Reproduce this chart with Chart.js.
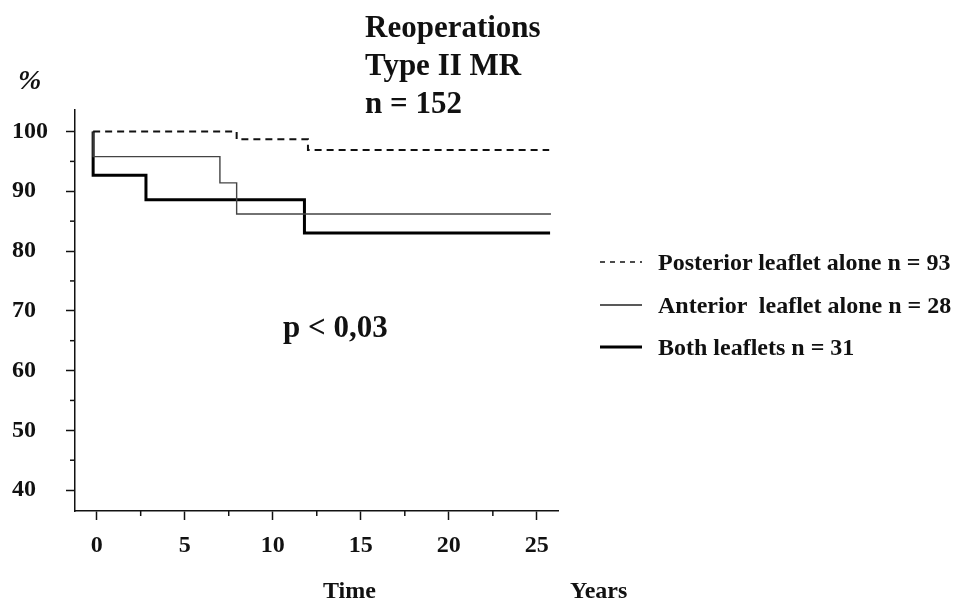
<!DOCTYPE html>
<html>
<head>
<meta charset="utf-8">
<script src="https://cdn.jsdelivr.net/npm/chart.js@4.4.1/dist/chart.umd.min.js"></script>
<style>
  body { margin: 0; background: #fff; }
  #wrap { position: relative; width: 969px; height: 601px; overflow: hidden; }
  #chart { position: absolute; left: 0; top: 0; }
  .txt {
    position: absolute;
    font-family: "Liberation Serif", "Times New Roman", serif;
    font-weight: bold;
    color: #111;
    line-height: 1;
    white-space: pre;
  }
  .legend-row { position: absolute; left: 600px; }
  .legend-row svg { position: absolute; left: 0; top: -5px; }
</style>
</head>
<body>
<div id="wrap">
  <canvas id="chart" width="969" height="601"></canvas>
</div>
<script>
// Kaplan-Meier style step data (years, %)
const posteriorTimes = [-0.2, 7.95, 12.0, 25.7];
const posteriorValues = [100, 98.7, 96.9, 96.9];

const anteriorTimes = [-0.2, -0.2, 7.0, 7.95, 25.8];
const anteriorValues = [100, 95.8, 91.4, 86.2, 86.2];

const bothTimes = [-0.2, -0.2, 2.8, 11.8, 25.75];
const bothValues = [100, 92.7, 88.6, 83.0, 83.0];

const seriesNames = [
  "Posterior leaflet alone n = 93",
  "Anterior  leaflet alone n = 28",
  "Both leaflets n = 31",
];

const xTicks = [0, 5, 10, 15, 20, 25];
const xMinorTicks = [2.5, 7.5, 12.5, 17.5, 22.5];
const yTicks = [40, 50, 60, 70, 80, 90, 100];
const yMinorTicks = [45, 55, 65, 75, 85, 95];

const titleLines = ["Reoperations", "Type II MR", "n = 152"];
const pValueText = "p < 0,03";

const toPoints = (times, values) => times.map((t, i) => ({ x: t, y: values[i] }));

const serifBold = (size) => ({
  family: "'Liberation Serif', 'Times New Roman', serif",
  size,
  weight: "bold",
});

// minor tick marks drawn through the scales
const minorTicks = {
  id: "minorTicks",
  afterDraw(chart) {
    const { ctx, scales } = chart;
    ctx.save();
    ctx.strokeStyle = "#111";
    ctx.lineWidth = 1.5;
    const xs = scales.x;
    xMinorTicks.forEach((v) => {
      const px = xs.getPixelForValue(v);
      ctx.beginPath();
      ctx.moveTo(px, xs.top);
      ctx.lineTo(px, xs.top + 5);
      ctx.stroke();
    });
    const ys = scales.y;
    yMinorTicks.forEach((v) => {
      const py = ys.getPixelForValue(v);
      ctx.beginPath();
      ctx.moveTo(ys.right, py);
      ctx.lineTo(ys.right - 5, py);
      ctx.stroke();
    });
    ctx.restore();
  },
};

const datasets = [
  {
    label: seriesNames[0],
    data: toPoints(posteriorTimes, posteriorValues),
    borderColor: "#111",
    borderWidth: 2,
    borderDash: [7, 5],
  },
  {
    label: seriesNames[1],
    data: toPoints(anteriorTimes, anteriorValues),
    borderColor: "#444",
    borderWidth: 1.4,
  },
  {
    label: seriesNames[2],
    data: toPoints(bothTimes, bothValues),
    borderColor: "#000",
    borderWidth: 3,
  },
].map((ds) => ({ ...ds, stepped: "before", pointRadius: 0, fill: false, tension: 0 }));

new Chart(document.getElementById("chart"), {
  type: "line",
  data: { datasets },
  options: {
    responsive: false,
    animation: false,
    layout: { padding: { left: 12, top: 110, right: 411, bottom: 0 } },
    plugins: { legend: { display: false }, tooltip: { enabled: false } },
    scales: {
      x: {
        type: "linear",
        min: -1.23,
        max: 26.2,
        afterBuildTicks: (scale) => {
          scale.ticks = xTicks.map((v) => ({ value: v }));
        },
        afterFit: (scale) => {
          scale.height = 90;
        },
        grid: { drawOnChartArea: false, drawTicks: true, tickLength: 9, tickColor: "#111", tickWidth: 1.5 },
        border: { display: true, color: "#111", width: 1.5 },
        ticks: { font: serifBold(24), color: "#111", padding: 11, maxRotation: 0 },
      },
      y: {
        type: "linear",
        min: 36.5,
        max: 103.6,
        afterBuildTicks: (scale) => {
          scale.ticks = yTicks.map((v) => ({ value: v }));
        },
        afterFit: (scale) => {
          scale.width = 63;
        },
        grid: { drawOnChartArea: false, drawTicks: true, tickLength: 9, tickColor: "#111", tickWidth: 1.5 },
        border: { display: true, color: "#111", width: 1.5 },
        ticks: { font: serifBold(24), color: "#111", crossAlign: "far", padding: 10 },
      },
    },
  },
  plugins: [minorTicks],
});

// text labels as DOM text, placed by baseline
const wrap = document.getElementById("wrap");
const addText = (text, x, baseline, size, extra = {}) => {
  const el = document.createElement("div");
  el.className = "txt";
  el.textContent = text;
  el.style.fontSize = size + "px";
  el.style.left = x + "px";
  el.style.top = baseline - Math.round(size * 0.84) + "px";
  Object.assign(el.style, extra);
  wrap.append(el);
  return el;
};

titleLines.forEach((line, i) => addText(line, 365, 37 + i * 38, 31));
addText("%", 18, 90, 28, { fontStyle: "italic" });
addText(pValueText, 283, 337, 31);
addText("Time", 323, 598, 24);
addText("Years", 570, 598, 24);

// legend
const legendRows = [262, 305, 347];
const legendStyles = [
  { width: 1.5, dash: "5 5", color: "#111" },
  { width: 1.5, dash: "", color: "#222" },
  { width: 3, dash: "", color: "#000" },
];
seriesNames.forEach((name, i) => {
  const y = legendRows[i];
  const row = document.createElement("div");
  row.className = "legend-row";
  row.style.top = y + "px";
  const s = legendStyles[i];
  row.innerHTML =
    `<svg width="44" height="10"><line x1="0" y1="5" x2="42" y2="5" stroke="${s.color}" ` +
    `stroke-width="${s.width}" stroke-dasharray="${s.dash}"/></svg>`;
  wrap.append(row);
  addText(name, 658, y + 8, 24);
});
</script>
</body>
</html>
